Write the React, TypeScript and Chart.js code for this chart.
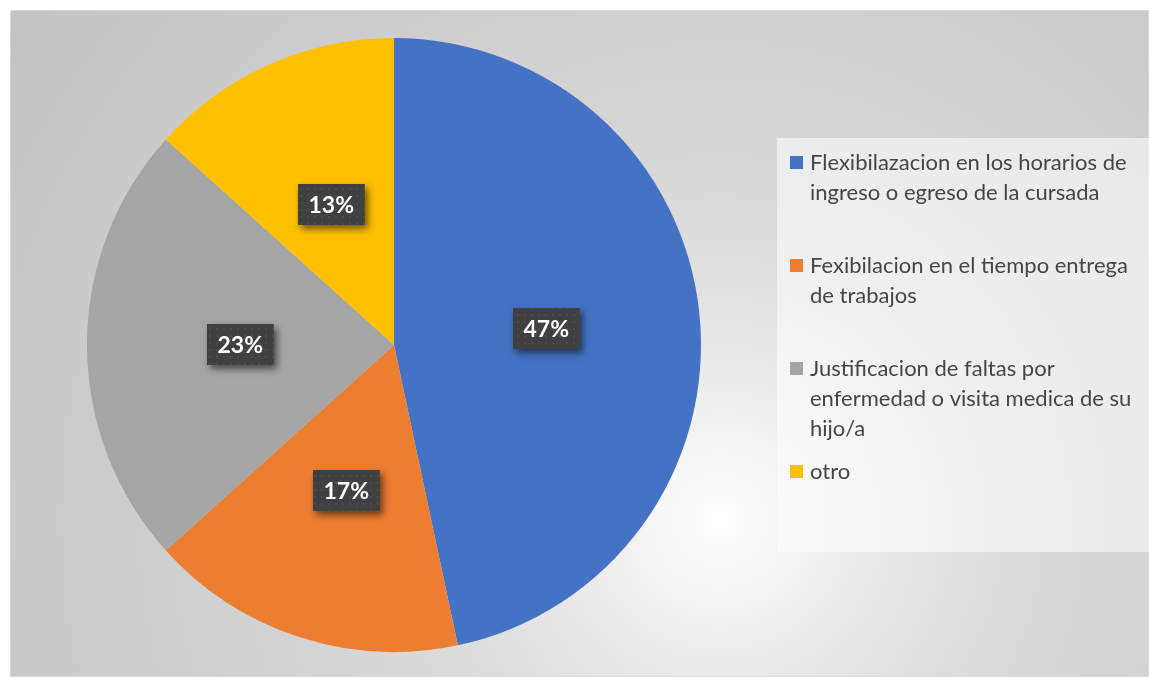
import React, { useEffect, useRef } from "react";
import { Chart, registerables } from "chart.js";

Chart.register(...registerables);

// ---- data ----
const categories: string[][] = [
  ["Flexibilazacion en los horarios de", "ingreso o egreso de la cursada"],
  ["Fexibilacion en el tiempo entrega", "de trabajos"],
  ["Justificacion de faltas por", "enfermedad o visita medica de su", "hijo/a"],
  ["otro"],
];
const values: number[] = [14, 5, 7, 4];
const colors: string[] = ["#4472C4", "#ED7D31", "#A5A5A5", "#FFC000"];

const FONT = "Lato, 'Open Sans', sans-serif";

const backgroundPlugin = {
  id: "bgGradient",
  beforeDraw(chart: any) {
    const { ctx, width, height } = chart;
    ctx.save();
    const g = ctx.createRadialGradient(710, 510, 0, 710, 510, 870);
    g.addColorStop(0, "#ffffff");
    g.addColorStop(0.16, "#ececec");
    g.addColorStop(0.29, "#dfdfdf");
    g.addColorStop(0.46, "#d5d5d5");
    g.addColorStop(0.69, "#cdcdcd");
    g.addColorStop(1, "#c4c4c4");
    ctx.fillStyle = g;
    ctx.fillRect(0, 0, width, height);
    ctx.strokeStyle = "#d9d9d9";
    ctx.lineWidth = 1;
    ctx.strokeRect(0.5, 0.5, width - 1, height - 1);
    ctx.restore();
  },
};

const legendPlugin = {
  id: "customLegend",
  afterDraw(chart: any) {
    const { ctx } = chart;
    const boxX = 767;
    const boxY = 128;
    const boxW = 372;
    const boxH = 414;
    ctx.save();
    ctx.fillStyle = "rgba(255,255,255,0.55)";
    ctx.fillRect(boxX, boxY, boxW, boxH);
    const labels = chart.data.labels as string[][];
    const bg = chart.data.datasets[0].backgroundColor as string[];
    ctx.font = `22px ${FONT}`;
    ctx.textBaseline = "middle";
    ctx.textAlign = "left";
    labels.forEach((lines, i) => {
      const top = 146 + i * 103;
      ctx.fillStyle = bg[i];
      ctx.fillRect(780, top, 13, 13);
      ctx.fillStyle = "#454545";
      lines.forEach((line, j) => {
        ctx.fillText(line, 800, top + 7 + j * 30);
      });
    });
    ctx.restore();
  },
};

let patternCache: CanvasPattern | null = null;
function getPattern(ctx: CanvasRenderingContext2D) {
  if (patternCache) return patternCache;
  const c = document.createElement("canvas");
  c.width = 7;
  c.height = 7;
  const p = c.getContext("2d")!;
  p.fillStyle = "#404040";
  p.fillRect(0, 0, 7, 7);
  p.fillStyle = "#4c4c4c";
  p.fillRect(3, 3, 2, 2);
  patternCache = ctx.createPattern(c, "repeat");
  return patternCache;
}

const labelPlugin = {
  id: "pctLabels",
  afterDatasetsDraw(chart: any) {
    const { ctx } = chart;
    const meta = chart.getDatasetMeta(0);
    const data = chart.data.datasets[0].data as number[];
    const total = data.reduce((a, b) => a + b, 0);
    ctx.save();
    meta.data.forEach((arc: any, i: number) => {
      const { x, y } = arc.getCenterPoint();
      const text = Math.round((data[i] / total) * 100) + "%";
      ctx.font = `bold 23px ${FONT}`;
      const tw = ctx.measureText(text).width;
      const w = tw + 21;
      const h = 41;
      const bx = Math.round(x - w / 2);
      const by = Math.round(y - h / 2);
      ctx.save();
      ctx.shadowColor = "rgba(0,0,0,0.55)";
      ctx.shadowBlur = 7;
      ctx.shadowOffsetX = 3;
      ctx.shadowOffsetY = 4;
      ctx.fillStyle = "#404040";
      ctx.fillRect(bx, by, w, h);
      ctx.restore();
      ctx.fillStyle = getPattern(ctx) as any;
      ctx.fillRect(bx, by, w, h);
      ctx.fillStyle = "#ffffff";
      ctx.textAlign = "center";
      ctx.textBaseline = "middle";
      ctx.fillText(text, bx + w / 2, by + h / 2 + 1);
    });
    ctx.restore();
  },
};

export default function App() {
  const ref = useRef<HTMLCanvasElement | null>(null);
  useEffect(() => {
    if (!ref.current) return;
    const chart = new Chart(ref.current, {
      type: "pie",
      data: {
        labels: categories as any,
        datasets: [
          {
            data: values,
            backgroundColor: colors,
            borderWidth: 0,
          },
        ],
      },
      options: {
        responsive: false,
        animation: false,
        layout: { padding: { left: 77, right: 448, top: 28, bottom: 25 } },
        plugins: {
          legend: { display: false },
          tooltip: { enabled: false },
        },
      },
      plugins: [backgroundPlugin, legendPlugin, labelPlugin],
    });
    return () => chart.destroy();
  }, []);
  return (
    <div style={{ position: "fixed", left: 10, top: 10, width: 1139, height: 667 }}>
      <canvas ref={ref} width={1139} height={667} style={{ display: "block" }} />
    </div>
  );
}
